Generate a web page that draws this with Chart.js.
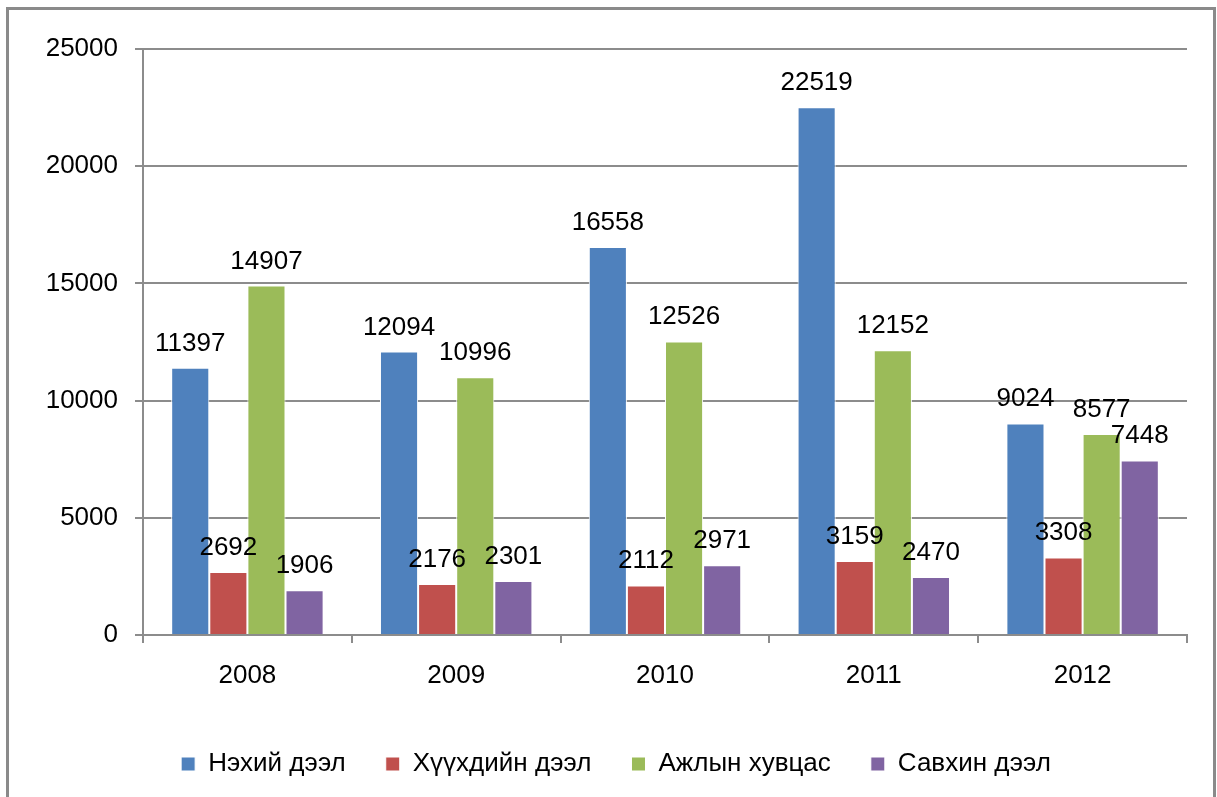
<!DOCTYPE html>
<html>
<head>
<meta charset="utf-8">
<script src="https://cdn.jsdelivr.net/npm/chart.js@4.4.1/dist/chart.umd.min.js"></script>
<style>
  html, body { margin: 0; padding: 0; background: #fff; overflow: hidden; }
  #frame { position: absolute; left: 6px; top: 7px; width: 1204px; height: 820px; border: 3px solid #8a8a8a; }
  #wrap { position: absolute; left: 0; top: 0; width: 1217px; height: 797px; }
</style>
</head>
<body>
<div id="frame"></div>
<div id="wrap"><canvas id="chart"></canvas></div>
<script>
const years = ["2008", "2009", "2010", "2011", "2012"];

const nekhiiDeel = [11397, 12094, 16558, 22519, 9024];
const khuukhdiinDeel = [2692, 2176, 2112, 3159, 3308];
const ajlynKhuvtsas = [14907, 10996, 12526, 12152, 8577];
const savkhinDeel = [1906, 2301, 2971, 2470, 7448];

const seriesNames = ["Нэхий дээл", "Хүүхдийн дээл", "Ажлын хувцас", "Савхин дээл"];
const seriesColors = ['#4f81bd', '#c0504d', '#9bbb59', '#8064a2'];

const fontFamily = '"Liberation Sans", Arial, sans-serif';
const gridColor = '#8c8c8c';

const makeDataset = (idx, data) => ({
    label: seriesNames[idx],
    data: data,
    backgroundColor: seriesColors[idx],
    borderColor: '#ffffff',
    borderWidth: 1,
    borderSkipped: 'bottom'
});

// value labels above each bar
const valueLabels = {
    id: 'valueLabels',
    afterDatasetsDraw(chart) {
        const ctx = chart.ctx;
        ctx.save();
        ctx.font = '26px ' + fontFamily;
        ctx.fillStyle = '#000';
        ctx.textAlign = 'center';
        ctx.textBaseline = 'alphabetic';
        chart.data.datasets.forEach((ds, i) => {
            chart.getDatasetMeta(i).data.forEach((bar, j) => {
                ctx.fillText(String(ds.data[j]), bar.x, bar.y - 17);
            });
        });
        ctx.restore();
    }
};

new Chart(document.getElementById('chart'), {
    type: 'bar',
    data: {
        labels: years,
        datasets: [
            makeDataset(0, nekhiiDeel),
            makeDataset(1, khuukhdiinDeel),
            makeDataset(2, ajlynKhuvtsas),
            makeDataset(3, savkhinDeel)
        ]
    },
    options: {
        responsive: true,
        maintainAspectRatio: false,
        animation: false,
        layout: {
            padding: { top: 49, left: 45, right: 30, bottom: 10 }
        },
        datasets: {
            bar: { categoryPercentage: 0.73, barPercentage: 1.0 }
        },
        scales: {
            x: {
                grid: {
                    offset: true,
                    drawOnChartArea: false,
                    color: gridColor,
                    lineWidth: 2,
                    tickLength: 8
                },
                border: { color: gridColor, width: 2 },
                ticks: {
                    color: '#000',
                    padding: 17,
                    font: { family: fontFamily, size: 26 }
                },
                afterFit: (scale) => { scale.height = 76; }
            },
            y: {
                min: 0,
                max: 25000,
                ticks: {
                    stepSize: 5000,
                    color: '#000',
                    padding: 17,
                    font: { family: fontFamily, size: 26 },
                    callback: (value) => String(value)
                },
                grid: {
                    color: gridColor,
                    lineWidth: 2,
                    tickLength: 8
                },
                border: { color: gridColor, width: 2 },
                afterFit: (scale) => { scale.width = 98; }
            }
        },
        plugins: {
            legend: {
                position: 'bottom',
                labels: {
                    color: '#000',
                    boxWidth: 14,
                    boxHeight: 14,
                    padding: 40,
                    font: { family: fontFamily, size: 26 }
                }
            },
            tooltip: { enabled: false }
        }
    },
    plugins: [valueLabels]
});
</script>
</body>
</html>
